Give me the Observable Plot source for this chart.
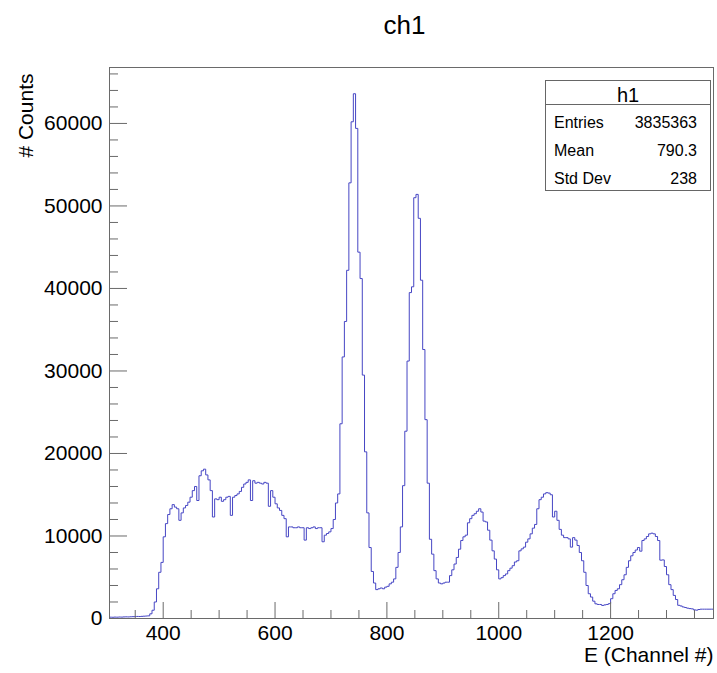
<!DOCTYPE html>
<html><head><meta charset="utf-8">
<script src="https://cdn.jsdelivr.net/npm/d3@7"></script>
<script src="https://cdn.jsdelivr.net/npm/@observablehq/plot@0.6"></script>
<style>
body{margin:0;background:#fff;}
#wrap{position:relative;width:717px;height:673px;font-family:"Liberation Sans",Arial,Helvetica,sans-serif;color:#000;}
#stats{position:absolute;left:545px;top:80px;width:166px;height:111px;box-sizing:border-box;border:1px solid #666;background:#fff;}
#stats .sep{position:absolute;left:0;right:0;top:23px;border-top:1px solid #666;}
#stats span{position:absolute;white-space:nowrap;line-height:1;}
</style></head><body><div id="wrap"></div>
<script>
const titleText = "ch1";
const xLabel = "E (Channel #)";
const yLabel = "# Counts";
const histName = "h1";
const statLabels = ["Entries", "Mean", "Std Dev"];
const statValues = ["3835363", "790.3", "238"];

// histogram binning (channel units)
const xMin = 304, xMax = 1384, binWidth = 4;
// counts per bin, bins starting at 304, 308, ... 1380
const counts = [
  160,150,170,160,180,170,190,200,190,210,
  220,230,250,240,260,280,300,320,570,1000,
  2000,3600,5600,6800,9900,11500,12600,13300,13800,13500,
  13300,11900,12800,13400,13700,14100,14700,15500,16000,14300,
  17300,17900,18100,17400,16800,15500,12300,14500,14400,14700,
  14200,14400,14700,14800,12500,14700,14900,15100,15400,15900,
  16300,16500,16800,14300,16700,16400,16500,16400,16300,16500,
  16400,13600,15500,14700,13900,13400,13100,12500,12100,9900,
  11100,11100,11000,11000,11100,11000,11000,9500,11000,10900,
  11000,11100,10900,11000,11000,9300,10100,10300,10500,10900,
  12000,14000,15100,23600,31700,36000,42200,52800,60200,63600,
  59400,44400,41200,29500,20200,12800,8600,5700,4300,3500,
  3600,3700,3600,3800,3900,4200,4400,4800,6200,8000,
  11100,16100,22700,31200,39500,40200,51000,51400,48500,41000,
  32600,24100,16400,9600,7800,5800,4800,4300,4200,4300,
  4400,4400,5200,5900,6600,7400,8400,9450,9900,10100,
  11600,12100,12500,12700,13000,13300,12900,11800,11700,10700,
  9500,8200,7200,5900,4800,4950,5200,5400,5800,6100,
  6400,6850,7000,8200,8440,8650,9250,9650,10260,10950,
  11400,13300,14400,14700,15100,15250,15200,15000,12300,13000,
  11900,10800,10100,9800,9800,9650,8650,9800,9500,8850,
  8000,7000,5600,4000,3000,2600,2100,1780,1700,1700,
  1580,1650,1700,1800,2400,3000,3400,3600,4100,4700,
  5300,6200,7000,7600,8000,8300,8600,8160,9450,9650,
  9940,10260,10340,10260,9940,9450,7070,7100,6300,5300,
  4100,3500,2800,2300,1600,1520,1400,1330,1250,1200,
  1170,1050,1010,1090,1130,1130,1130,1130,1130,1130
];

const xMajorTicks = [400, 600, 800, 1000, 1200];
const xMinorTicks = [350, 450, 500, 550, 650, 700, 750, 850, 900, 950, 1050, 1100, 1150, 1250, 1300, 1350];
const yMajorTicks = [0, 10000, 20000, 30000, 40000, 50000, 60000];
const yMinorTicks = [2000, 4000, 6000, 8000, 12000, 14000, 16000, 18000, 22000, 24000, 26000, 28000,
  32000, 34000, 36000, 38000, 42000, 44000, 46000, 48000, 52000, 54000, 56000, 58000, 62000, 64000, 66000];

const yMax = d3.max(counts) * 1.05;

const W = 717, H = 673, mL = 109, mR = 4, mT = 67, mB = 55;
const fw = W - mL - mR, fh = H - mT - mB;
const font = '"Liberation Sans", Arial, Helvetica, sans-serif';
const axisGray = "#6a6a6a";

const pts = counts.map((c, i) => ({x: xMin + i * binWidth, y: c}));
pts.push({x: xMax, y: counts[counts.length - 1]});

const chart = Plot.plot({
  width: W, height: H,
  marginLeft: mL, marginRight: mR, marginTop: mT, marginBottom: mB,
  style: {fontFamily: font, fontSize: "21px", color: "#000", background: "#fff"},
  x: {domain: [xMin, xMax]},
  y: {domain: [0, yMax]},
  marks: [
    Plot.line(pts, {x: "x", y: "y", curve: "step-after", stroke: "#4646c4", strokeWidth: 1}),
    Plot.tickX(xMinorTicks, {x: d => d, insetTop: fh - 8, stroke: axisGray}),
    Plot.tickX(xMajorTicks, {x: d => d, insetTop: fh - 16, stroke: axisGray}),
    Plot.tickY(yMinorTicks, {y: d => d, insetRight: fw - 9, stroke: axisGray}),
    Plot.tickY(yMajorTicks, {y: d => d, insetRight: fw - 18, stroke: axisGray}),
    Plot.axisX({ticks: xMajorTicks, tickSize: 0, tickPadding: 7, label: null, fontSize: 21, tickFormat: d => String(d)}),
    Plot.axisY({ticks: yMajorTicks, tickSize: 0, tickPadding: 7, label: null, fontSize: 21, tickFormat: d => String(d)}),
    Plot.frame({stroke: axisGray}),
    Plot.text([titleText], {frameAnchor: "top-left", dx: 404 - mL, dy: 33 - mT, textAnchor: "middle", lineAnchor: "bottom", fontSize: 26, fill: "#000"}),
    Plot.text([xLabel], {frameAnchor: "bottom-right", dx: 0, dy: 43, textAnchor: "end", lineAnchor: "bottom", fontSize: 21, fill: "#000"}),
    Plot.text([yLabel], {frameAnchor: "top-left", dx: 32 - mL, dy: 6, rotate: -90, textAnchor: "end", lineAnchor: "bottom", fontSize: 21, fill: "#000"})
  ]
});

const wrap = document.getElementById("wrap");
wrap.appendChild(chart);

// stats box
const box = document.createElement("div");
box.id = "stats";
const sep = document.createElement("div"); sep.className = "sep"; box.appendChild(sep);
const h = document.createElement("span");
h.textContent = histName;
h.style.fontSize = "20px"; h.style.left = "0"; h.style.right = "0"; h.style.textAlign = "center"; h.style.top = "4px";
box.appendChild(h);
const baselines = [129, 157, 185];
statLabels.forEach((lab, i) => {
  const top = baselines[i] - 0.8465 * 16 - 81;
  const a = document.createElement("span");
  a.textContent = lab; a.style.fontSize = "16px"; a.style.left = "8px"; a.style.top = top + "px";
  const b = document.createElement("span");
  b.textContent = statValues[i]; b.style.fontSize = "16px"; b.style.right = "13px"; b.style.top = top + "px";
  box.appendChild(a); box.appendChild(b);
});
wrap.appendChild(box);
</script>
</body></html>
